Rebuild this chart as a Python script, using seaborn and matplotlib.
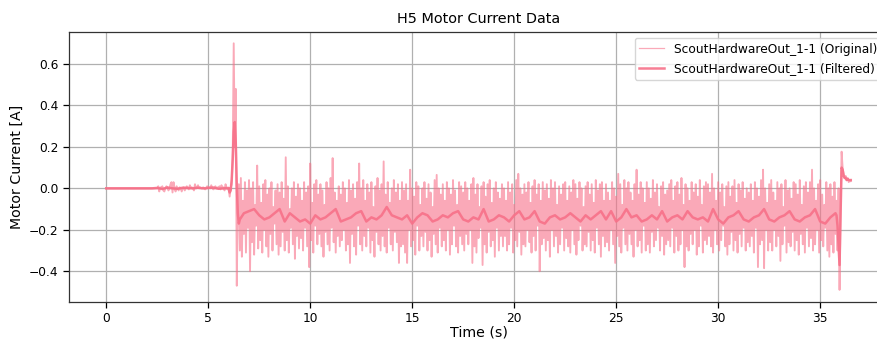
import numpy as np
import pandas as pd
import matplotlib
matplotlib.use("Agg")
import matplotlib.pyplot as plt
import seaborn as sns

# ---------------- data ----------------
title = "H5 Motor Current Data"
x_label = "Time (s)"
y_label = "Motor Current [A]"
label_orig = "ScoutHardwareOut_1-1 (Original)"
label_filt = "ScoutHardwareOut_1-1 (Filtered)"

# original signal, sampled every 0.05 s
sample_step = 0.05

orig_quiet_start = 0.0
orig_quiet = [0.0] * 50            # 0.00 .. 2.45 s

orig_pre_start = 2.5
orig_pre = [
    0.0, 0.01, -0.015, 0.005, 0.0, 0.01, -0.01, -0.015, 0.0, 0.01,
    0.005, -0.01, 0.0, 0.02, 0.03, -0.02, 0.03, 0.0, -0.015, 0.01,
    0.0, -0.01, 0.005, 0.0, -0.015, 0.0, 0.005, -0.01, 0.0, 0.01,
    0.0, -0.005, 0.015, 0.0, 0.005, 0.0, -0.01, 0.02, 0.0, 0.005,
    0.015, 0.0, 0.005, 0.0, 0.0, 0.005, 0.0, -0.005, 0.0, 0.01,
    0.0, 0.005, 0.0, 0.015, 0.0, -0.005, 0.0, 0.01, 0.0, 0.005,
    0.0, 0.01, -0.005, 0.015, 0.0, 0.005, -0.01, 0.02, 0.0, -0.005,
    0.0,
]

orig_spike_start = 6.05
orig_spike = [-0.04, 0.0, 0.02, 0.15, 0.70, 0.20, 0.48, -0.47, -0.05]

# noisy section from 6.5 s: upper (hi) and lower (lo) excursions alternate
orig_noise_start = 6.5
orig_hi = [
    0.02, 0.05, -0.06, 0.03, -0.01, 0.04, 0.00, 0.03, -0.08, 0.11,
    0.01, -0.07, 0.02, 0.04, -0.03, 0.00, 0.03, -0.09, -0.01, 0.02,
    -0.02, 0.03, -0.05, 0.15, 0.01, -0.10, 0.00, 0.03, -0.04, 0.02,
    0.00, -0.06, 0.03, -0.02, 0.01, 0.12, -0.07, 0.02, 0.04, -0.03,
    0.02, -0.01, -0.08, 0.03, 0.00, 0.05, 0.146, -0.02, -0.06, 0.01,
    -0.03, 0.03, 0.00, -0.07, 0.04, -0.01, 0.02, -0.05, 0.03, 0.12,
    0.00, 0.04, -0.06, 0.02, -0.02, 0.03, -0.09, 0.01, 0.05, -0.01,
    0.02, 0.13, -0.03, 0.03, -0.07, 0.00, 0.04, -0.02, 0.02, -0.06,
    0.03, -0.01, 0.02, -0.06, 0.09, 0.00, -0.04, 0.03, 0.01, -0.08,
    0.00, 0.03, -0.05, 0.02, -0.02, -0.09, 0.04, 0.065, 0.00, -0.03,
    0.02, -0.06, 0.03, 0.00, -0.03, 0.04, -0.01, -0.08, 0.03, 0.01,
    -0.02, 0.03, 0.00, -0.06, 0.02, 0.05, -0.03, 0.02, -0.09, 0.01,
    0.03, -0.04, 0.02, 0.04, -0.07, 0.00, 0.03, -0.02, -0.05, 0.02,
    0.00, -0.06, 0.03, -0.02, 0.02, -0.08, 0.04, 0.07, 0.00, -0.03,
    0.02, -0.02, 0.03, -0.07, 0.01, 0.04, -0.03, 0.02, -0.06, 0.03,
    -0.01, 0.02, -0.05, 0.04, 0.00, 0.03, -0.08, 0.01, -0.03, 0.02,
    0.03, -0.06, 0.01, -0.02, 0.04, 0.02, -0.05, 0.03, 0.00, -0.09,
    0.01, 0.03, -0.03, 0.02, -0.07, 0.04, -0.01, 0.02, 0.03, -0.06,
    0.02, -0.02, -0.06, 0.03, 0.00, -0.04, 0.07, 0.02, -0.08, 0.04,
    0.00, 0.03, -0.02, -0.06, 0.02, 0.09, -0.03, 0.03, 0.00, -0.07,
    0.03, 0.00, -0.05, 0.04, -0.02, 0.02, -0.09, 0.01, 0.03, -0.03,
    -0.01, 0.02, 0.04, -0.06, 0.01, 0.03, -0.03, 0.05, -0.08, 0.02,
    0.00, -0.06, 0.03, -0.02, 0.02, -0.04, 0.04, -0.08, 0.01, 0.03,
    0.02, -0.02, 0.07, 0.00, -0.06, 0.03, -0.02, 0.02, -0.09, 0.01,
    0.03, -0.04, 0.01, 0.04, -0.07, 0.02, -0.01, 0.03, -0.05, 0.00,
    -0.02, 0.02, -0.06, 0.03, 0.00, -0.04, 0.04, 0.09, 0.00, -0.07,
    0.02, 0.04, -0.02, -0.06, 0.03, 0.00, 0.02, -0.09, 0.04, -0.01,
    0.00, -0.05, 0.03, 0.02, -0.03, 0.04, -0.08, 0.01, 0.03, -0.02,
    0.03, 0.09, 0.00, -0.06, 0.02, 0.04, -0.03, -0.08, 0.03, 0.00,
    0.02, -0.04, 0.03, -0.06, 0.00,
]
orig_lo = [
    -0.30, -0.33, -0.22, -0.31, -0.19, -0.40, -0.26, -0.32, -0.18, -0.29,
    -0.25, -0.31, -0.20, -0.28, -0.33, -0.22, -0.30, -0.17, -0.27, -0.32,
    -0.28, -0.21, -0.30, -0.25, -0.31, -0.19, -0.27, -0.34, -0.23, -0.29,
    -0.24, -0.30, -0.19, -0.28, -0.38, -0.25, -0.31, -0.18, -0.27, -0.22,
    -0.28, -0.33, -0.21, -0.27, -0.30, -0.19, -0.26, -0.31, -0.23, -0.28,
    -0.25, -0.20, -0.30, -0.27, -0.36, -0.22, -0.28, -0.32, -0.18, -0.27,
    -0.30, -0.23, -0.28, -0.19, -0.31, -0.25, -0.33, -0.21, -0.27, -0.30,
    -0.23, -0.28, -0.31, -0.19, -0.27, -0.30, -0.21, -0.26, -0.36, -0.28,
    -0.27, -0.31, -0.36, -0.20, -0.28, -0.25, -0.32, -0.18, -0.30, -0.23,
    -0.28, -0.21, -0.30, -0.25, -0.33, -0.22, -0.27, -0.31, -0.19, -0.28,
    -0.25, -0.30, -0.20, -0.32, -0.27, -0.18, -0.28, -0.31, -0.23, -0.27,
    -0.30, -0.22, -0.27, -0.20, -0.36, -0.28, -0.31, -0.24, -0.19, -0.37,
    -0.27, -0.31, -0.21, -0.28, -0.25, -0.33, -0.19, -0.30, -0.23, -0.28,
    -0.23, -0.30, -0.27, -0.19, -0.31, -0.25, -0.28, -0.21, -0.32, -0.27,
    -0.28, -0.20, -0.26, -0.31, -0.23, -0.30, -0.18, -0.40, -0.27, -0.24,
    -0.30, -0.25, -0.33, -0.20, -0.28, -0.23, -0.31, -0.27, -0.19, -0.30,
    -0.24, -0.28, -0.31, -0.20, -0.27, -0.32, -0.25, -0.18, -0.30, -0.27,
    -0.28, -0.21, -0.30, -0.25, -0.31, -0.19, -0.27, -0.33, -0.23, -0.28,
    -0.26, -0.30, -0.20, -0.27, -0.36, -0.23, -0.28, -0.31, -0.19, -0.27,
    -0.30, -0.22, -0.27, -0.33, -0.20, -0.28, -0.25, -0.31, -0.18, -0.30,
    -0.27, -0.31, -0.21, -0.28, -0.25, -0.19, -0.30, -0.23, -0.32, -0.27,
    -0.25, -0.28, -0.19, -0.31, -0.23, -0.30, -0.27, -0.20, -0.38, -0.28,
    -0.30, -0.22, -0.27, -0.20, -0.32, -0.28, -0.18, -0.31, -0.25, -0.27,
    -0.23, -0.28, -0.31, -0.20, -0.27, -0.30, -0.25, -0.18, -0.28, -0.32,
    -0.27, -0.21, -0.30, -0.25, -0.31, -0.22, -0.28, -0.19, -0.30, -0.26,
    -0.28, -0.23, -0.31, -0.19, -0.38, -0.27, -0.25, -0.385, -0.20, -0.30,
    -0.26, -0.30, -0.20, -0.28, -0.23, -0.35, -0.27, -0.18, -0.31, -0.26,
    -0.28, -0.21, -0.30, -0.25, -0.32, -0.22, -0.27, -0.31, -0.19, -0.28,
    -0.24, -0.30, -0.27, -0.20, -0.31, -0.25, -0.28, -0.19, -0.30, -0.33,
    -0.27, -0.31, -0.22, -0.30, -0.49,
]

orig_end_start = 36.0
orig_end = [-0.10, 0.177, 0.10, 0.07, 0.05, 0.06, 0.04, 0.05, 0.03, 0.04, 0.035]

# filtered signal
filt_pre_start, filt_pre_step = 0.0, 0.25
filt_pre = [0.0] * 10 + [
    0.002, -0.003, 0.004, 0.0, -0.002, 0.003, 0.002, 0.0, 0.003, 0.0,
    0.002, 0.004, -0.002, 0.0, 0.002,
]
filt_spike_start = 6.05
filt_spike = [-0.02, -0.01, 0.04, 0.14, 0.27, 0.32, 0.22, 0.02, -0.12, -0.17, -0.15]

filt_noise_start, filt_noise_step = 6.75, 0.25
filt_noise = [
    -0.12, -0.11, -0.10, -0.13, -0.15, -0.14, -0.12, -0.10, -0.16, -0.12,
    -0.14, -0.16, -0.15, -0.17, -0.13, -0.15, -0.14, -0.12, -0.10, -0.16,
    -0.15, -0.14, -0.12, -0.11, -0.16, -0.14, -0.15, -0.13, -0.09, -0.13,
    -0.14, -0.15, -0.13, -0.17, -0.14, -0.12, -0.13, -0.16, -0.15, -0.13,
    -0.14, -0.12, -0.11, -0.15, -0.16, -0.14, -0.15, -0.10, -0.16, -0.15,
    -0.13, -0.14, -0.16, -0.13, -0.11, -0.15, -0.14, -0.11, -0.16, -0.17,
    -0.14, -0.13, -0.15, -0.14, -0.12, -0.14, -0.16, -0.13, -0.15, -0.13,
    -0.11, -0.15, -0.11, -0.16, -0.14, -0.10, -0.14, -0.13, -0.16, -0.15,
    -0.13, -0.15, -0.11, -0.16, -0.14, -0.13, -0.15, -0.11, -0.14, -0.15,
    -0.14, -0.16, -0.10, -0.15, -0.17, -0.14, -0.13, -0.11, -0.15, -0.16,
    -0.14, -0.13, -0.10, -0.15, -0.16, -0.14, -0.13, -0.11, -0.15, -0.16,
    -0.14, -0.13, -0.10, -0.16, -0.17, -0.14, -0.12,
]
filt_end_start = 35.8
filt_end = [-0.13, -0.18, -0.28, -0.37, -0.12, 0.10, 0.09, 0.06, 0.05, 0.05,
            0.04, 0.045, 0.04, 0.04, 0.04]


def seg_time(start, step, values):
    return start + step * np.arange(len(values))


# assemble original
noise_vals = []
for h, l in zip(orig_hi, orig_lo):
    noise_vals += [h, l]

t_orig = np.concatenate([
    seg_time(orig_quiet_start, sample_step, orig_quiet),
    seg_time(orig_pre_start, sample_step, orig_pre),
    seg_time(orig_spike_start, sample_step, orig_spike),
    seg_time(orig_noise_start, sample_step, noise_vals),
    seg_time(orig_end_start, sample_step, orig_end),
])
v_orig = np.concatenate([orig_quiet, orig_pre, orig_spike, noise_vals, orig_end])

t_filt = np.concatenate([
    seg_time(filt_pre_start, filt_pre_step, filt_pre),
    seg_time(filt_spike_start, sample_step, filt_spike),
    seg_time(filt_noise_start, filt_noise_step, filt_noise),
    seg_time(filt_end_start, sample_step, filt_end),
])
v_filt = np.concatenate([filt_pre, filt_spike, filt_noise, filt_end])

df_orig = pd.DataFrame({"t": t_orig, "v": v_orig})
df_filt = pd.DataFrame({"t": t_filt, "v": v_filt})

# ---------------- plot ----------------
color = sns.color_palette("husl", 8)[0]

fig = plt.figure(figsize=(8.77, 3.40), dpi=100)
ax = fig.add_axes([69 / 877, (340 - 301.7) / 340, (888 - 69) / 877, (301.7 - 31.7) / 340])

sns.lineplot(data=df_orig, x="t", y="v", ax=ax, color=color, lw=1.35, alpha=0.6,
             label=label_orig, sort=False, estimator=None)
sns.lineplot(data=df_filt, x="t", y="v", ax=ax, color=color, lw=1.8, alpha=0.9,
             label=label_filt, sort=False, estimator=None)

ax.set_xlim(-1.825, 38.325)
ax.set_ylim(-0.547, 0.756)
ax.set_xticks([0, 5, 10, 15, 20, 25, 30, 35])
ax.set_yticks([-0.4, -0.2, 0.0, 0.2, 0.4, 0.6])
ax.grid(True, color="#b0b0b0", lw=0.9)
ax.set_axisbelow(True)
ax.tick_params(labelsize=8.8, length=4, width=0.9)
for s in ax.spines.values():
    s.set_linewidth(0.9)
    s.set_color("#333333")

ax.set_title(title, fontsize=10.4)
ax.set_xlabel(x_label, fontsize=10.2, labelpad=0.5)
ax.set_ylabel(y_label, fontsize=10.2)
leg = ax.legend(loc="upper right", fontsize=8.8)
leg.get_lines()[0].set_linewidth(0.9)

fig.savefig("out.png", dpi=100)
